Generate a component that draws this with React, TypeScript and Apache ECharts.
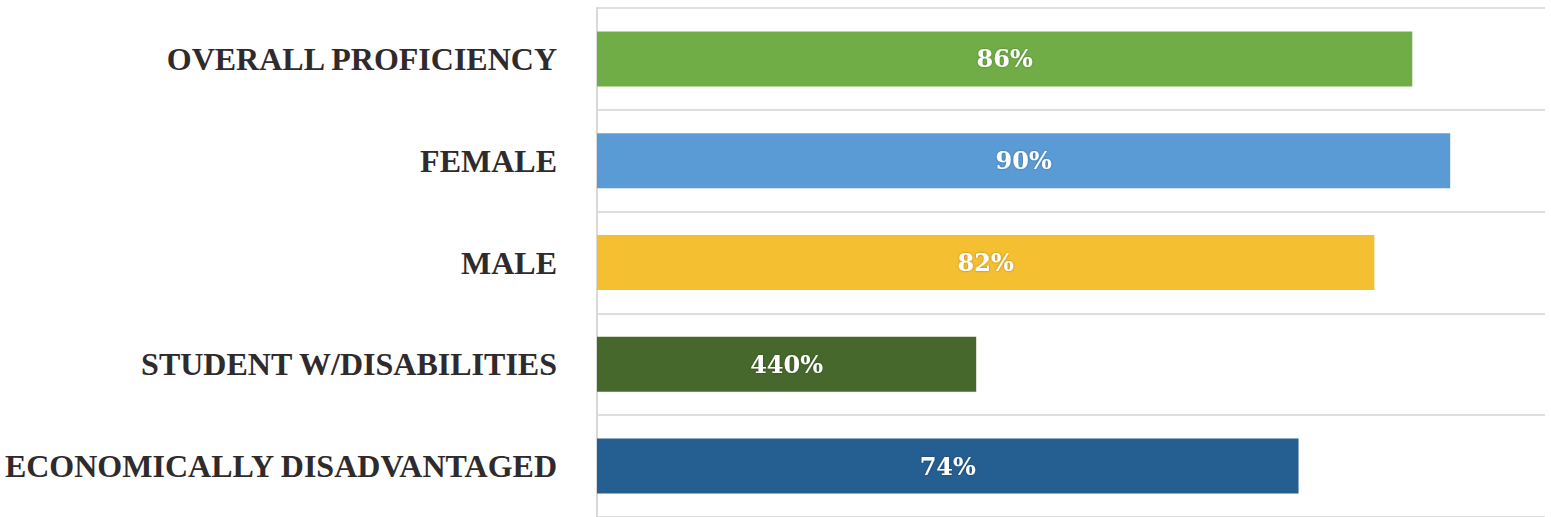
import React, { useEffect, useRef } from "react";
import * as echarts from "echarts";

const categories = [
  "OVERALL PROFICIENCY",
  "FEMALE",
  "MALE",
  "STUDENT W/DISABILITIES",
  "ECONOMICALLY DISADVANTAGED",
];
const values = [86, 90, 82, 40, 74];
const valueLabels = ["86%", "90%", "82%", "440%", "74%"];
const barColors = ["#70AD47", "#5B9BD5", "#F5BF32", "#46682C", "#255E91"];

export default function App() {
  const ref = useRef<HTMLDivElement>(null);
  useEffect(() => {
    if (!ref.current) return;
    const chart = echarts.init(ref.current, null, { renderer: "svg" });
    chart.setOption({
      animation: false,
      backgroundColor: "#ffffff",
      grid: { left: 597, top: 8, width: 948, height: 512 },
      xAxis: {
        type: "value",
        min: 0,
        max: 100,
        show: false,
      },
      yAxis: {
        type: "category",
        data: categories,
        inverse: true,
        axisLine: { show: true, lineStyle: { color: "#d9d9d9", width: 2 } },
        axisTick: { show: false },
        splitLine: { show: true, lineStyle: { color: "#dedede", width: 2 } },
        axisLabel: {
          margin: 40,
          color: "#2f2a2c",
          fontFamily: "Liberation Serif",
          fontWeight: "bold",
          fontSize: 32,
          padding: [0, 0, 4, 0],
        },
      },
      series: [
        {
          type: "bar",
          data: values.map((v, i) => ({
            value: v,
            itemStyle: { color: barColors[i] },
            label: { formatter: valueLabels[i] },
          })),
          barCategoryGap: "46%",
          label: {
            show: true,
            position: "inside",
            color: "#ffffff",
            fontFamily: "DejaVu Serif",
            fontWeight: "bold",
            fontSize: 24,
            textShadowColor: "rgba(0,0,0,0.35)",
            textShadowBlur: 2,
          },
        },
      ],
    });
    return () => chart.dispose();
  }, []);
  return (
    <div
      ref={ref}
      style={{ position: "absolute", left: 0, top: 0, width: 1551, height: 517 }}
    />
  );
}
